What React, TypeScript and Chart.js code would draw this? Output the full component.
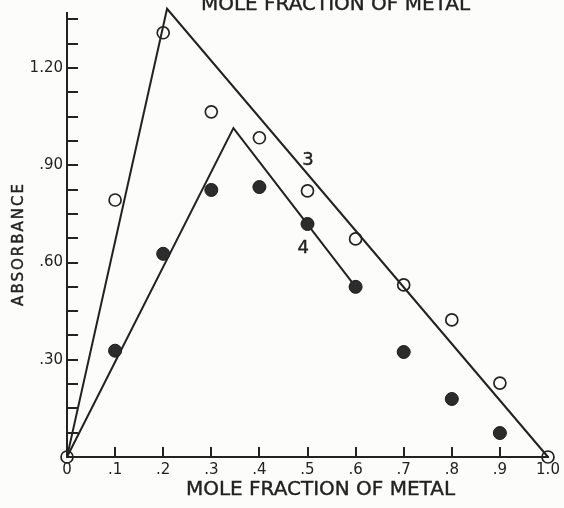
import React, { useEffect, useRef } from 'react';
import { Chart, registerables } from 'chart.js';

Chart.register(...registerables);

// ---- data ----
const moleFraction3 = [0, 0.1, 0.2, 0.3, 0.4, 0.5, 0.6, 0.7, 0.8, 0.9, 1.0];
const absorbance3 = [0, 0.793, 1.309, 1.065, 0.985, 0.821, 0.673, 0.531, 0.423, 0.228, 0];

const moleFraction4 = [0.1, 0.2, 0.3, 0.4, 0.5, 0.6, 0.7, 0.8, 0.9];
const absorbance4 = [0.328, 0.627, 0.824, 0.833, 0.719, 0.525, 0.324, 0.179, 0.074];

const fitLine3X = [0, 0.208, 1.0];
const fitLine3Y = [0, 1.383, 0];
const fitLine4X = [0, 0.346, 0.6];
const fitLine4Y = [0, 1.015, 0.525];

const curveLabels = ['3', '4'];
const curveLabelX = [0.501, 0.491];
const curveLabelY = [0.914, 0.645];

const xTickLabels = ['0', '.1', '.2', '.3', '.4', '.5', '.6', '.7', '.8', '.9', '1.0'];
const yTickLabels = ['.30', '.60', '.90', '1.20'];

const xTitle = 'MOLE FRACTION OF METAL';
const topTitle = 'MOLE FRACTION OF METAL';
const yTitle = 'ABSORBANCE';

const INK = '#222222';
const FONT = "'DejaVu Sans', sans-serif";

const pairs = (xs: number[], ys: number[]) => xs.map((x, i) => ({ x, y: ys[i] }));

const decorPlugin = {
  id: 'decor',
  beforeDraw(chart: any) {
    const ctx = chart.ctx;
    ctx.save();
    ctx.fillStyle = '#fcfcfa';
    ctx.fillRect(0, 0, chart.width, chart.height);
    ctx.restore();
  },
  beforeDatasetsDraw(chart: any) {
    const ctx = chart.ctx;
    const { left, bottom } = chart.chartArea;
    const xs = chart.scales.x;
    const ys = chart.scales.y;
    ctx.save();
    ctx.strokeStyle = INK;
    ctx.lineWidth = 2;
    ctx.beginPath();
    ys.ticks.forEach((t: any) => {
      if (t.value <= 0) return;
      const py = Math.round(ys.getPixelForValue(t.value));
      ctx.moveTo(left, py);
      ctx.lineTo(left + 11, py);
    });
    xs.ticks.forEach((t: any) => {
      if (t.value <= 0 || t.value >= 1) return;
      const px = Math.round(xs.getPixelForValue(t.value));
      ctx.moveTo(px, bottom);
      ctx.lineTo(px, bottom - 10);
    });
    ctx.stroke();
    ctx.restore();
  },
  afterDraw(chart: any) {
    const ctx = chart.ctx;
    const { left, right, top, bottom } = chart.chartArea;
    const xs = chart.scales.x;
    const ys = chart.scales.y;
    const cx = (left + right) / 2;
    ctx.save();
    ctx.fillStyle = INK;
    ctx.strokeStyle = INK;
    ctx.lineWidth = 0.4;
    // curve labels
    ctx.font = `18px ${FONT}`;
    ctx.textAlign = 'center';
    ctx.textBaseline = 'middle';
    curveLabels.forEach((s, i) => {
      const px = xs.getPixelForValue(curveLabelX[i]);
      const py = ys.getPixelForValue(curveLabelY[i]);
      ctx.fillText(s, px, py);
      ctx.strokeText(s, px, py);
    });
    // x-axis title
    ctx.font = `20px ${FONT}`;
    ctx.textBaseline = 'alphabetic';
    ctx.fillText(xTitle, cx + 13, bottom + 38);
    ctx.strokeText(xTitle, cx + 13, bottom + 38);
    // top title (partly cut at the top edge)
    ctx.fillText(topTitle, cx + 28, top - 3);
    ctx.strokeText(topTitle, cx + 28, top - 3);
    // y-axis title
    ctx.save();
    ctx.translate(23, (top + bottom) / 2 + 9);
    ctx.rotate(-Math.PI / 2);
    ctx.font = `15px ${FONT}`;
    try { (ctx as any).letterSpacing = '2px'; } catch (e) {}
    ctx.textAlign = 'center';
    ctx.fillText(yTitle, 0, 0);
    ctx.strokeText(yTitle, 0, 0);
    ctx.restore();
    ctx.restore();
  },
};

export default function App() {
  const ref = useRef<HTMLCanvasElement | null>(null);
  useEffect(() => {
    if (!ref.current) return;
    const chart = new Chart(ref.current, {
      type: 'scatter',
      data: {
        datasets: [
          {
            label: '4 points',
            data: pairs(moleFraction4, absorbance4),
            showLine: false,
            pointRadius: 6.5,
            pointBackgroundColor: '#2c2c2c',
            pointBorderColor: '#1c1c1c',
            pointBorderWidth: 1,
            clip: false,
          } as any,
          {
            label: '3 points',
            data: pairs(moleFraction3, absorbance3),
            showLine: false,
            pointRadius: 6,
            pointBackgroundColor: 'rgba(0,0,0,0)',
            pointBorderColor: INK,
            pointBorderWidth: 1.7,
            clip: false,
          } as any,
          {
            label: 'fit 3',
            data: pairs(fitLine3X, fitLine3Y),
            showLine: true,
            borderColor: INK,
            borderWidth: 2,
            pointRadius: 0,
            tension: 0,
            clip: false,
          } as any,
          {
            label: 'fit 4',
            data: pairs(fitLine4X, fitLine4Y),
            showLine: true,
            borderColor: INK,
            borderWidth: 2,
            pointRadius: 0,
            tension: 0,
            clip: false,
          } as any,
        ],
      },
      options: {
        responsive: false,
        animation: false,
        events: [],
        layout: { padding: { top: 13, right: 16, left: 0, bottom: 0 } },
        plugins: { legend: { display: false }, tooltip: { enabled: false }, title: { display: false } },
        scales: {
          x: {
            type: 'linear',
            min: 0,
            max: 1,
            afterFit: (s: any) => { s.height = 51; },
            grid: { display: true, drawOnChartArea: false, drawTicks: false },
            border: { display: true, color: INK, width: 2 },
            ticks: {
              stepSize: 0.1,
              padding: 4,
              color: INK,
              font: { family: FONT, size: 15 },
              maxRotation: 0,
              autoSkip: false,
              callback: (v: any) => xTickLabels[Math.round(Number(v) * 10)] ?? '',
            },
          },
          y: {
            type: 'linear',
            min: 0,
            max: 1.37,
            afterFit: (s: any) => { s.width = 67; },
            grid: { display: true, drawOnChartArea: false, drawTicks: false },
            border: { display: true, color: INK, width: 2 },
            ticks: {
              stepSize: 0.075,
              includeBounds: false,
              padding: 4,
              color: INK,
              font: { family: FONT, size: 15 },
              autoSkip: false,
              callback: (v: any) => {
                const n = Number(v) / 0.3;
                const k = Math.round(n);
                if (k >= 1 && Math.abs(n - k) < 1e-6) return yTickLabels[k - 1] ?? '';
                return '';
              },
            },
          },
        },
      },
      plugins: [decorPlugin],
    });
    return () => chart.destroy();
  }, []);
  return (
    <div style={{ position: 'fixed', top: 0, left: 0, width: 564, height: 508 }}>
      <canvas ref={ref} width={564} height={508} style={{ display: 'block', width: 564, height: 508 }} />
    </div>
  );
}
